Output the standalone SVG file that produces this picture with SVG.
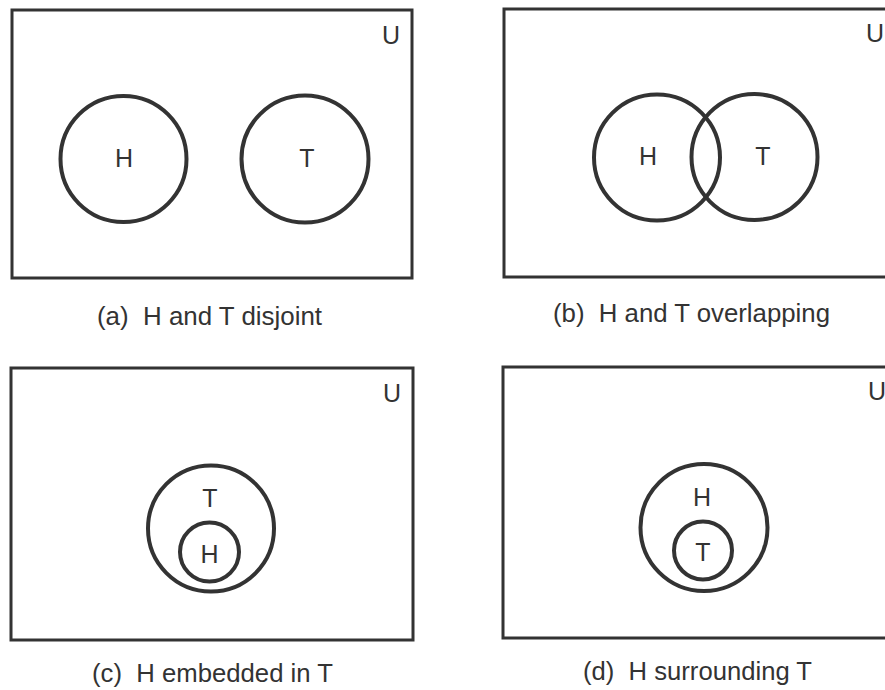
<svg xmlns="http://www.w3.org/2000/svg" width="885" height="690" viewBox="0 0 885 690">
<style>
.u{fill:none;stroke:#333;stroke-width:3}
.c{fill:none;stroke:#333;stroke-width:4}
.l{font-family:"Liberation Sans",Arial,sans-serif;font-size:25px;fill:#333;text-anchor:middle}
.cap{font-family:"Liberation Sans",Arial,sans-serif;font-size:25px;fill:#333;white-space:pre}
</style>
<rect width="885" height="690" fill="#fff"/>
<g id="panel-a">
<rect class="u" x="12" y="10" width="400" height="268"/>
<text class="l" x="391" y="44">U</text>
<g id="a-H"><circle class="c" cx="123.5" cy="159" r="63"/><text class="l" x="124" y="167">H</text></g>
<g id="a-T"><circle class="c" cx="305" cy="159" r="63.5"/><text class="l" x="307" y="167">T</text></g>
<text class="cap" xml:space="preserve" x="97" y="325" textLength="225" lengthAdjust="spacingAndGlyphs">(a)  H and T disjoint</text>
</g>
<g id="panel-b">
<rect class="u" x="504" y="9" width="400" height="268"/>
<text class="l" x="875" y="42">U</text>
<g id="b-H"><circle class="c" cx="657" cy="157.5" r="63"/><text class="l" x="648" y="165">H</text></g>
<g id="b-T"><circle class="c" cx="754.5" cy="157" r="63"/><text class="l" x="763" y="165">T</text></g>
<text class="cap" xml:space="preserve" x="553" y="322" textLength="277" lengthAdjust="spacingAndGlyphs">(b)  H and T overlapping</text>
</g>
<g id="panel-c">
<rect class="u" x="11" y="368" width="402" height="272"/>
<text class="l" x="392" y="402">U</text>
<g id="c-T"><circle class="c" cx="211" cy="528.5" r="63"/><text class="l" x="210" y="507">T</text></g>
<g id="c-H"><circle class="c" cx="209.5" cy="552" r="29.5"/><text class="l" x="209.5" y="563">H</text></g>
<text class="cap" xml:space="preserve" x="92" y="682" textLength="241" lengthAdjust="spacingAndGlyphs">(c)  H embedded in T</text>
</g>
<g id="panel-d">
<rect class="u" x="503" y="367" width="400" height="271"/>
<text class="l" x="877" y="400">U</text>
<g id="d-H"><circle class="c" cx="704" cy="527.5" r="63.5"/><text class="l" x="702" y="506">H</text></g>
<g id="d-T"><circle class="c" cx="703" cy="550.5" r="29"/><text class="l" x="703" y="561">T</text></g>
<text class="cap" xml:space="preserve" x="583" y="680" textLength="229" lengthAdjust="spacingAndGlyphs">(d)  H surrounding T</text>
</g>
<g id="connectors"/>
</svg>
